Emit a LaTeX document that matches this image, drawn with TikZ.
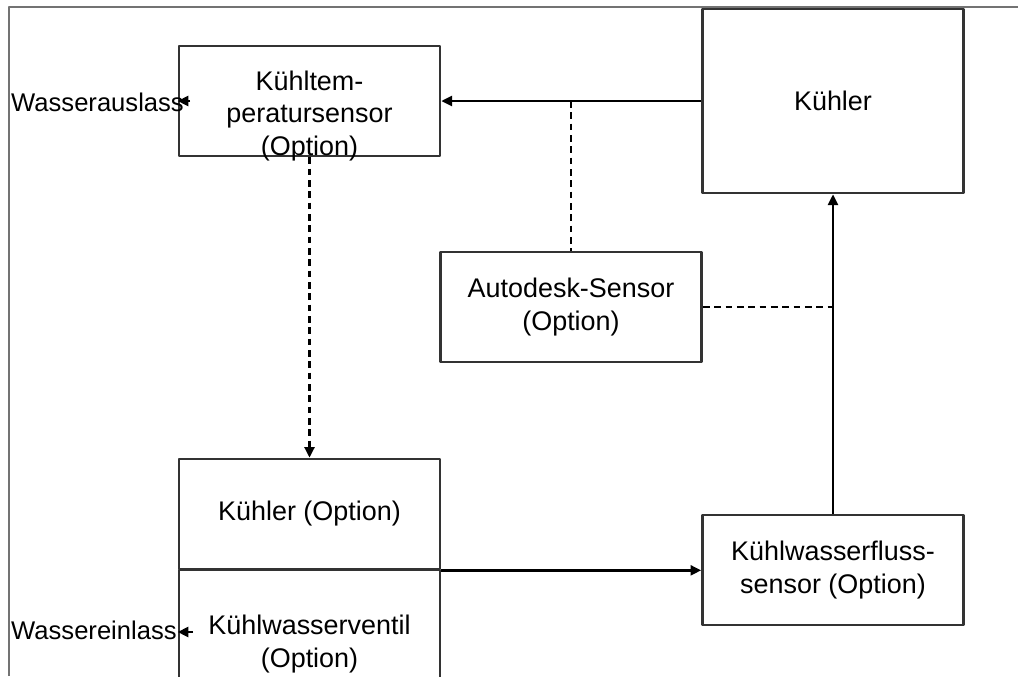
\documentclass[tikz,border=0pt]{standalone}
\usepackage{fontspec}
\setmainfont{Liberation Sans}
\usetikzlibrary{arrows.meta}
\tikzset{
	box/.style={draw=black!80, line width=2pt, minimum width=195.75pt, minimum height=82.5pt, inner sep=0pt, align=center},
	strich/.style={line width=1.9pt, dash pattern=on 5pt off 3.5pt},
	anschluss/.style={anchor=west, inner sep=0pt, font=\fontsize{19.2pt}{24pt}\selectfont},
}
\begin{document}
\begin{tikzpicture}[x=0.75pt, y=-0.75pt, font=\fontsize{20.2pt}{24.5pt}\selectfont, line join=round, line width=1.8pt, >={Triangle[length=8pt,width=7.5pt]}]
	\useasboundingbox (0,0) rectangle (1018,676);
	% Rahmen
	\draw[black!55, line width=0.9pt] (9,676) -- (9,7) -- (1018,7);
	% Bloecke
	\node[box] (sensor) at (309.5,101) {};
	\node[align=center, inner sep=0pt] (sensortxt) at (309.5,116) {Kühltem-\\peratursensor\\(Option)};
	\node[box, minimum height=138pt] (kuehler) at (833,101) {Kühler};
	\node[box] (autodesk) at (571,307) {Autodesk-Sensor\\(Option)};
	\node[box] (kuehleropt) at (309.5,514) {Kühler (Option)};
	\node[box, minimum height=111pt] (ventil) at (309.5,644) {Kühlwasserventil\\(Option)};
	\node[box] (fluss) at (833,570) {Kühlwasserfluss-\\sensor (Option)};
	% Ein- und Auslass
	\node[anschluss] (auslass) at (10,102) {Wasserauslass};
	\node[anschluss] (einlass) at (10,630) {Wassereinlass};
	\coordinate (auslasspfeil) at (190,101);
	\coordinate (einlasspfeil) at (193,632);
	\draw[->] (auslasspfeil) -- (sensor.west);
	\draw[->] (einlasspfeil) -- (ventil.west |- einlasspfeil);
	% Verbindungen
	\draw[->] (kuehler.west) -- (sensor.east);
	\coordinate (abzweig) at (571,101);
	\draw[strich] (abzweig) -- (autodesk.north);
	\draw[->] (fluss.north) -- (kuehler.south);
	\coordinate (knoten) at (833,307);
	\draw[strich] (autodesk.east) -- (knoten);
	\draw[strich, ->] (sensor.south) -- (kuehleropt.north);
	\draw[->] (kuehleropt.south east) -- (fluss.west |- kuehleropt.south east);
\end{tikzpicture}
\end{document}
